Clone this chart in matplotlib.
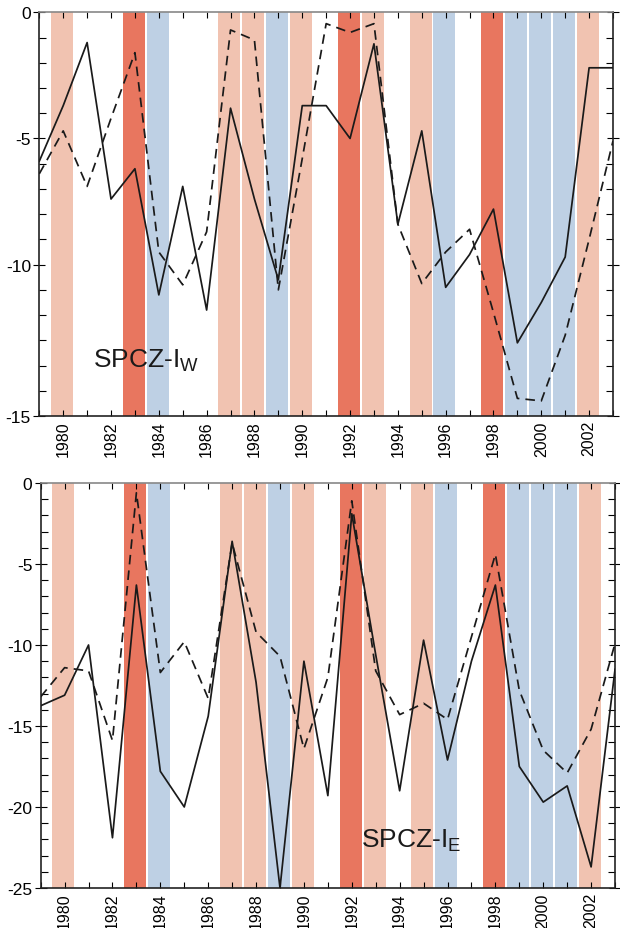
import numpy as np
import matplotlib
matplotlib.use("Agg")
import matplotlib.pyplot as plt
from matplotlib.ticker import MultipleLocator, FixedLocator

plt.rcParams["font.family"] = ["Liberation Sans", "DejaVu Sans"]

# Years and ENSO phase bands
years = list(range(1979, 2004))
strong_nino = [1983, 1992, 1998]
weak_nino = [1980, 1987, 1988, 1990, 1993, 1995, 2002]
nina = [1984, 1989, 1996, 1999, 2000, 2001]

# SPCZ-I_W (top panel)
iw_solid = [-5.9, -3.7, -1.2, -7.4, -6.2, -11.2, -6.9, -11.8, -3.8, -7.4, -10.6,
            -3.7, -3.7, -5.0, -1.25, -8.4, -4.7, -10.9, -9.6, -7.8, -13.1, -11.5,
            -9.7, -2.2, -2.2]
iw_dashed = [-6.4, -4.7, -6.9, -4.2, -1.6, -9.5, -10.8, -8.7, -0.7, -1.1, -11.0,
             -5.8, -0.45, -0.8, -0.45, -8.4, -10.75, -9.5, -8.6, -11.9, -15.3, -15.4,
             -12.8, -9.0, -5.1]

# SPCZ-I_E (bottom panel)
ie_solid = [-13.75, -13.1, -10.0, -21.9, -6.3, -17.8, -20.0, -14.4, -3.6, -12.3, -25.0,
            -11.0, -19.3, -1.9, -10.6, -19.0, -9.7, -17.1, -11.0, -6.3, -17.5, -19.7,
            -18.7, -23.7, -11.5]
ie_dashed = [-13.2, -11.4, -11.6, -15.9, -0.6, -11.7, -9.8, -13.3, -3.7, -9.2, -10.7,
             -16.4, -12.0, -1.1, -11.6, -14.3, -13.6, -14.6, -9.5, -4.4, -12.8, -16.5,
             -17.9, -15.2, -9.9]

c_weak = "#F1C3B1"
c_strong = "#E8765F"
c_nina = "#BED0E4"

fig = plt.figure(figsize=(6.2, 9.29), dpi=100)
ax1 = fig.add_axes([0.0634, 0.5511, 0.9253, 0.4346])
ax2 = fig.add_axes([0.0656, 0.0431, 0.9264, 0.4359])


def draw_panel(ax, solid, dashed, ylim, yticks, ylabels):
    for yrs, col in [(weak_nino, c_weak), (strong_nino, c_strong), (nina, c_nina)]:
        for y in yrs:
            ax.axvspan(y - 0.51, y + 0.41, color=col, lw=0, zorder=0)
    ax.plot(years, solid, color="#1a1a1a", lw=1.25, zorder=3)
    ax.plot(years, dashed, color="#1a1a1a", lw=1.25, dashes=(5.5, 3.5), zorder=3)
    ax.set_xlim(1979, 2003)
    ax.set_ylim(*ylim)
    ax.yaxis.set_major_locator(FixedLocator(yticks))
    ax.set_yticklabels(ylabels, fontsize=12.5)
    ax.yaxis.set_minor_locator(MultipleLocator(1))
    ax.xaxis.set_major_locator(FixedLocator(range(1980, 2003, 2)))
    ax.xaxis.set_minor_locator(MultipleLocator(1))
    ax.set_xticklabels([str(y) for y in range(1980, 2003, 2)], rotation=90, fontsize=11.5)
    ax.tick_params(axis="y", which="major", direction="inout", length=8, width=0.8,
                   right=True, pad=2)
    ax.tick_params(axis="y", which="minor", direction="in", length=5, width=0.8, right=True)
    ax.tick_params(axis="x", which="both", direction="in", length=4, width=0.8, top=True,
                   pad=3)
    for s in ["left", "bottom", "right"]:
        ax.spines[s].set_linewidth(1.2)
        ax.spines[s].set_color("#222222")
    ax.spines["top"].set_color("#888888")
    ax.spines["top"].set_linewidth(1.2)


draw_panel(ax1, iw_solid, iw_dashed, (-16, 0), [0, -5, -10, -16], ["0", "-5", "-10", "-15"])
draw_panel(ax2, ie_solid, ie_dashed, (-25, 0), [0, -5, -10, -15, -20, -25],
           ["0", "-5", "-10", "-15", "-20", "-25"])

fig.text(0.1495, 0.604, r"SPCZ-I$_\mathregular{W}$", fontsize=19, color="#1a1a1a")
fig.text(0.583, 0.0872, r"SPCZ-I$_\mathregular{E}$", fontsize=19, color="#1a1a1a")

fig.savefig("out.png", dpi=100)
